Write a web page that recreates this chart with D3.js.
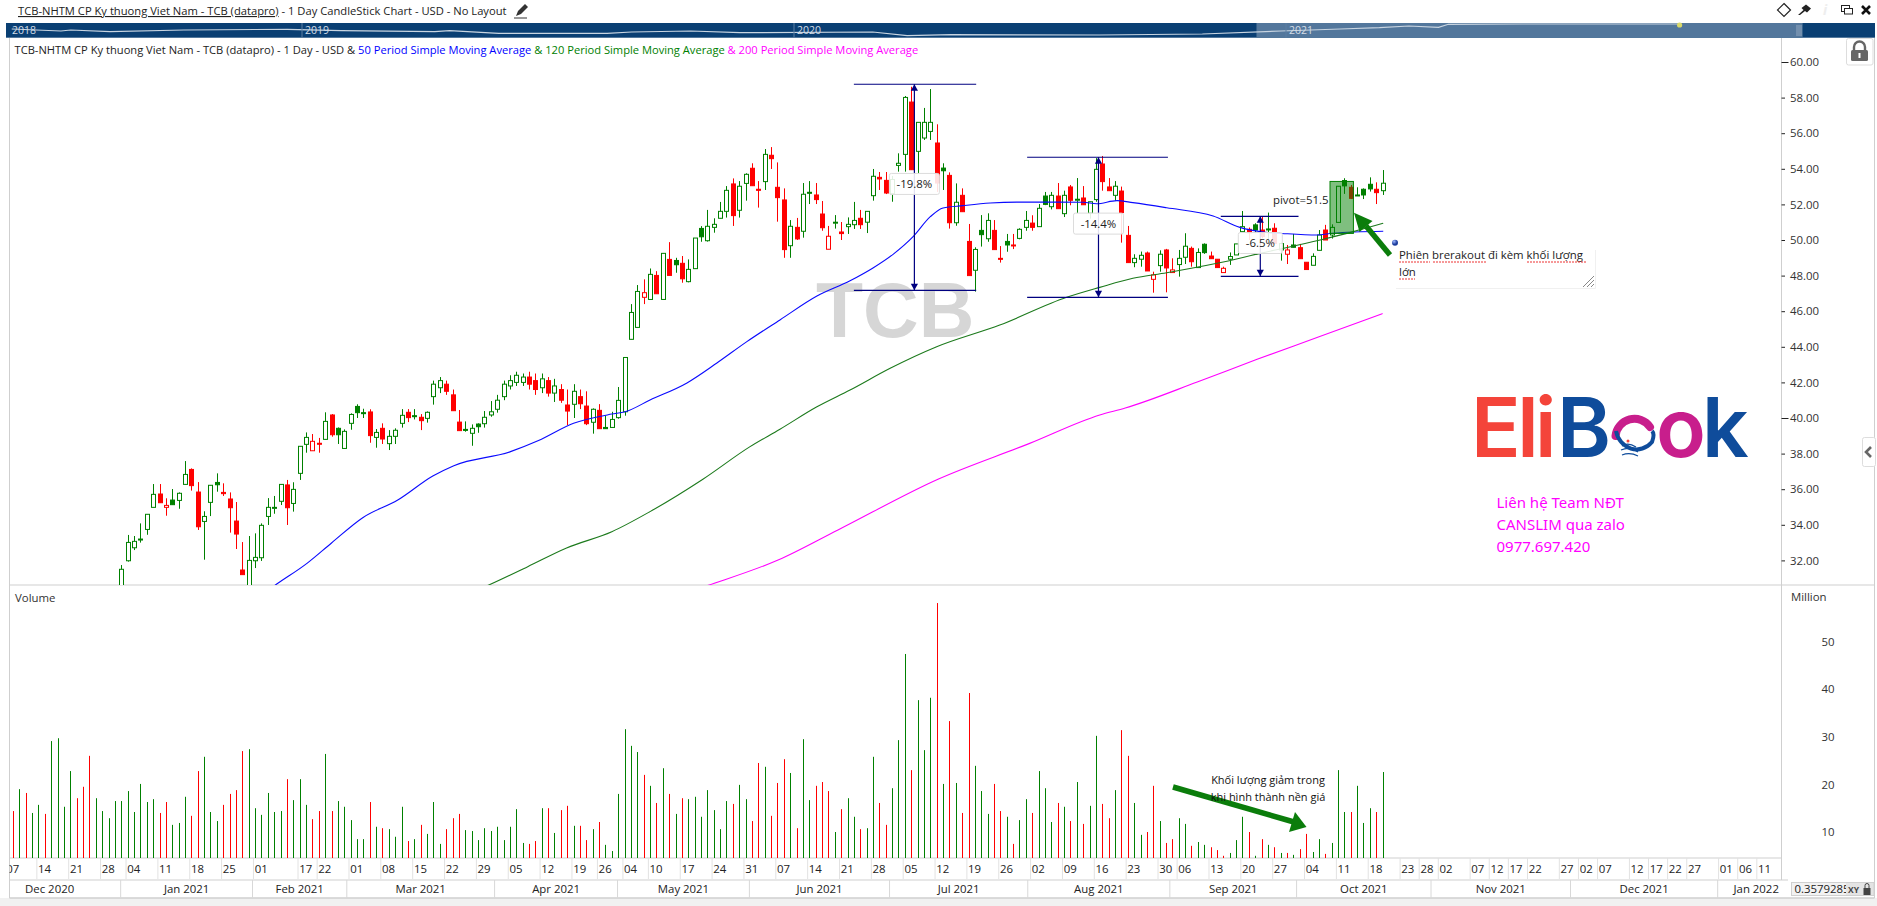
<!DOCTYPE html>
<html>
<head>
<meta charset="utf-8">
<script src="https://cdn.jsdelivr.net/npm/d3@7"></script>
<style>
html, body { margin: 0; padding: 0; background: #fff; overflow: hidden; }
svg { display: block; font-family: "Open Sans", sans-serif; }
</style>
</head>
<body>
<svg id="chart" width="1877" height="906"></svg>
<script>
// candle values, one trading day each (first 17 sit below the visible pane)
var opens = [27.4,27.0,27.6,27.2,27.5,27.9,27.5,28.0,28.6,28.9,
29.4,29.1,28.8,28.3,28.8,29.2,29.6,30.3,31.98,32.71,
33.15,33.74,34.98,35.73,34.98,35.39,35.37,36.27,37.11,35.84,
34.19,35.26,36.38,35.82,35.45,34.21,31.46,30.4,31.98,32.15,
34.47,34.97,35.32,36.24,35.2,36.89,38.52,38.16,38.58,38.8,
40.17,39.42,38.29,39.7,40.65,40.3,40.34,38.91,39.42,38.56,
38.97,39.7,40.32,40.13,40.04,39.98,41.2,41.7,41.9,41.3,
39.77,39.36,39.14,39.66,39.68,40.17,40.49,41.2,41.8,42.0,
42.0,42.3,42.1,41.7,42.1,41.4,41.6,40.73,40.77,41.2,
40.67,39.76,40.43,39.47,39.47,40.02,40.35,44.42,45.09,46.78,
46.66,48.01,46.66,48.91,48.85,48.69,47.66,48.39,50.65,49.96,
50.71,51.22,51.61,53.15,51.67,53.18,54.03,52.85,53.28,54.76,
52.96,52.25,49.68,50.71,50.49,52.68,52.53,51.46,49.48,50.99,
50.45,50.75,50.86,51.22,51.0,52.49,53.52,53.35,52.6,54.19,
54.81,57.75,54.98,55.73,56.1,55.45,54.04,53.63,50.97,52.51,
49.92,48.3,50.54,50.07,50.54,48.97,49.92,49.72,50.09,50.71,
50.95,50.75,52.47,51.87,52.47,51.48,52.98,52.28,52.36,51.5,
52.27,54.27,52.98,52.51,52.75,50.26,48.73,48.92,49.27,47.79,
48.56,49.44,48.17,48.62,49.03,49.53,48.45,49.76,49.1,48.92,
48.17,48.92,49.16,50.47,50.6,50.85,50.56,50.62,50.66,49.44,
49.2,49.72,49.57,48.75,48.58,49.42,50.56,50.28,50.99,53.34,
52.96,52.5,52.85,53.13,52.85,52.77];
var closes = [27.0,27.4,27.2,27.5,27.8,27.5,28.1,28.6,28.9,29.3,
29.0,28.7,28.3,28.8,29.2,29.6,30.0,31.5,33.01,33.07,
33.2,34.59,35.71,35.24,35.09,35.13,35.77,36.83,36.2,33.89,
34.47,36.22,36.25,35.75,34.96,33.48,31.2,32.0,32.17,33.97,
34.98,34.98,36.27,34.96,35.99,38.41,38.91,38.69,38.56,39.81,
39.06,39.06,39.25,40.2,40.3,40.28,39.01,39.19,38.82,38.97,
39.31,40.15,40.02,40.1,39.85,40.32,41.9,42.1,41.5,40.41,
39.29,39.34,39.42,39.51,40.04,40.35,41.0,41.9,42.1,42.4,
42.3,41.9,41.6,42.2,41.4,41.8,41.0,40.39,41.5,40.8,
39.68,40.49,39.4,39.4,39.92,40.99,43.4,45.93,47.11,47.04,
48.07,46.98,49.25,48.01,48.61,47.82,48.35,50.11,50.18,50.77,
50.88,51.61,52.79,51.37,53.02,53.69,53.05,52.79,54.81,54.57,
52.38,49.46,50.77,50.06,52.57,52.66,52.27,50.69,50.21,51.0,
50.36,50.88,51.1,50.86,51.61,53.58,53.43,52.64,53.4,54.31,
58.01,53.95,56.61,56.61,56.61,53.2,53.89,50.97,52.12,51.59,
48.0,49.47,50.3,51.1,49.46,48.95,49.72,49.71,50.6,51.1,
50.71,51.78,52.0,52.51,51.76,52.51,52.23,52.29,51.98,52.15,
53.97,53.28,52.77,53.02,51.54,48.73,48.97,49.14,48.26,48.04,
49.2,48.43,48.32,48.97,49.65,48.78,49.3,49.29,48.95,48.45,
48.41,49.07,49.78,50.75,50.4,50.56,50.2,50.6,49.8,49.8,
49.44,49.59,48.95,48.34,49.08,50.28,50.0,50.71,53.02,53.04,
52.34,52.53,52.53,52.87,52.66,53.19];
var highs = [27.6,27.6,27.8,27.7,28.0,28.1,28.3,28.8,29.1,29.5,
29.6,29.3,29.0,29.0,29.4,29.8,30.3,31.74,33.43,33.37,
34.08,34.59,36.29,36.29,35.49,36.01,35.82,37.58,37.17,36.4,
34.76,36.22,36.89,36.33,35.82,35.28,33.03,33.37,33.52,34.08,
35.5,35.62,36.27,36.52,36.39,38.41,39.19,39.1,38.88,40.32,
40.22,39.47,39.36,40.26,40.77,40.52,40.49,39.38,39.7,39.32,
39.42,40.5,40.5,40.5,40.22,40.37,42.1,42.3,42.1,41.6,
40.45,39.81,39.64,39.7,40.39,40.95,41.3,42.1,42.4,42.6,
42.5,42.6,42.5,42.5,42.3,42.2,41.9,41.6,41.9,41.6,
41.5,40.54,40.78,40.13,40.35,41.74,43.4,46.4,47.47,47.79,
48.4,48.25,49.25,49.88,49.0,49.1,48.91,50.11,50.78,51.69,
51.22,52.14,53.03,53.46,53.31,53.75,54.31,53.31,55.11,55.22,
54.36,52.9,51.12,51.24,53.2,53.31,53.2,52.19,50.79,51.4,
51.01,51.27,52.14,51.69,51.61,53.99,53.82,53.82,53.6,54.87,
58.09,58.61,56.61,57.42,58.48,56.5,54.31,53.8,53.18,52.9,
50.9,49.59,51.4,51.5,51.12,49.66,50.34,50.34,50.66,51.63,
51.39,52.02,52.7,52.7,53.2,52.77,53.09,53.48,53.03,52.15,
54.6,54.72,53.48,53.31,53.0,50.79,49.2,49.35,49.35,48.22,
49.42,49.5,48.97,49.44,50.38,49.63,49.53,49.81,49.35,48.92,
48.5,49.3,49.78,51.63,50.7,50.94,51.3,51.54,50.94,49.85,
49.72,50.34,49.78,48.75,49.25,50.56,50.85,50.88,53.02,53.47,
53.09,52.96,52.9,53.52,53.24,53.93];
var lows = [26.9,26.9,27.1,27.1,27.3,27.4,27.4,27.9,28.4,28.7,
28.9,28.6,28.1,28.2,28.6,29.0,29.4,30.2,31.93,32.58,
33.0,33.44,34.98,35.24,34.51,35.13,34.9,36.27,35.92,33.71,
32.04,34.49,35.86,35.62,33.56,32.64,31.2,30.2,31.57,31.97,
33.99,34.62,35.11,33.99,34.74,36.52,38.05,38.16,38.05,38.8,
38.95,38.54,38.29,39.34,40.0,40.0,38.61,38.33,38.54,38.2,
38.54,39.46,39.77,39.92,39.32,39.74,40.75,41.4,41.3,40.41,
39.29,39.23,38.44,39.17,39.46,40.07,40.3,41.0,41.6,41.8,
41.8,41.6,41.3,41.4,41.2,40.9,40.85,39.6,40.0,40.5,
39.6,39.12,39.4,39.4,39.47,39.96,40.13,44.42,45.09,46.4,
46.66,46.98,46.66,48.01,48.16,47.6,47.62,48.39,49.9,49.91,
50.41,51.22,51.26,50.79,51.26,52.21,53.05,51.82,52.81,53.99,
51.03,49.0,49.0,50.0,50.13,52.02,52.02,50.52,49.48,50.64,
50.0,50.34,50.62,50.62,50.39,52.21,52.81,52.58,52.15,53.84,
53.84,53.95,53.74,55.62,55.62,52.7,52.81,50.64,50.8,51.59,
48.0,47.1,49.63,49.9,49.46,48.73,49.34,49.49,50.04,50.52,
50.52,50.75,51.96,51.72,51.76,51.29,51.95,51.5,51.98,51.2,
52.15,52.77,52.77,52.21,49.85,48.73,48.47,48.5,48.26,47.04,
48.22,47.06,48.17,47.94,48.65,48.5,48.45,49.22,48.95,48.45,
48.17,48.6,49.16,50.47,50.0,50.38,50.1,50.0,49.8,48.84,
48.65,49.59,48.95,48.34,48.58,49.42,50.0,50.08,50.99,52.59,
52.3,52.47,52.3,52.72,52.02,52.53];

// volume in millions, same trading days
var volumes = [14.4,19.0,18.2,14.0,15.7,13.8,29.1,29.7,15.3,22.8,
17.1,19.5,26.0,17.1,14.4,12.9,16.5,16.5,18.6,14.2,
20.1,16.3,16.9,14.0,16.3,11.5,11.9,17.4,13.4,22.8,
25.8,14.2,12.3,15.7,18.0,18.8,27.0,27.4,15.0,13.6,
18.2,14.2,14.4,21.1,16.7,21.1,15.7,12.7,14.4,26.4,
14.4,16.5,15.3,12.5,8.5,8.5,16.3,11.1,10.8,10.6,
9.0,15.3,8.1,8.5,11.5,9.6,16.3,7.5,10.6,12.9,
13.8,10.4,10.2,8.3,10.8,10.2,11.1,8.3,11.1,14.8,
7.7,7.5,8.1,15.0,15.0,9.8,14.6,15.5,11.3,11.3,
8.3,10.6,12.1,7.3,6.0,18.0,31.6,28.1,26.8,
22.0,19.7,16.1,23.4,18.0,13.8,17.1,16.9,17.4,13.2,
18.8,14.6,10.6,16.5,15.9,19.9,16.9,12.3,24.5,23.7,
13.4,20.3,25.3,22.4,10.8,29.5,16.7,19.7,20.5,18.6,
10.0,14.8,17.1,13.2,10.6,10.8,25.8,16.1,11.5,19.2,
29.3,47.4,23.0,37.7,27.2,38.2,58.1,20.1,33.3,20.3,
14.0,39.2,23.9,18.6,13.8,20.1,14.4,13.2,7.5,12.5,
16.9,14.0,22.8,19.2,12.1,16.1,15.3,12.3,20.5,11.7,
15.5,30.2,15.9,12.9,18.8,31.4,26.0,16.1,9.4,10.0,
19.7,12.3,7.7,8.5,12.9,11.7,7.1,7.9,7.3,6.8,
6.2,5.0,5.6,8.3,13.2,10.0,5.0,8.5,7.3,6.8,
5.6,5.6,5.2,6.4,9.6,5.8,8.5,5.4,7.7,23.0,
14.2,14.2,19.7,11.9,15.0,14.2,22.6];
// day direction: g up on the previous close, r down
var dayDirs = ("rgrggrgggg" + "rrrggggggg" + "gggrrgggrr" + "gggrrrrggg" + "gggrgggrrg" +
  "rgggggrgrg" + "ggrgrgggrr" + "rggggggggg" + "grrgrgrrgr" + "rgrgggggg" +
  "rgrgrgrggg" + "ggggrggrrg" + "rrrgrggrrr" + "grggrggrrg" + "ggrgggrgrg" +
  "rrgggrrgrg" + "grgggrgrgr" + "ggrrgrrggr" + "rgrrggrggr" + "rrgggrgrgr" +
  "grgrrggrgg" + "grgggrg").split("");

// moving averages, vertices as [day index], [price]
var ma50Days = [38,41.4,46.2,50,54.9,60.4,65.9,69.2,78.1,82.5,88,94,96.1,100,105.8,110.5,115.2,120.4,126.2,131.4,135,138.2,141.3,144,146,149.1,153.4,157.6,168,170.1,173.3,175.8,181.1,188.4,192.6,195.8,200,204.7,207.2,215.1];
var ma50Prices = [29.8,30.67,31.85,32.98,34.4,35.39,36.74,37.32,38.11,38.73,39.7,40.22,40.35,41.01,41.97,43.09,44.29,45.51,46.85,47.71,48.43,49.21,50.19,51.31,51.8,51.93,52.08,52.13,52.12,52.04,52.21,52.1,51.81,51.35,50.71,50.47,50.35,50.28,50.38,50.49];
var ma120Days = [70,74.7,80.8,86.9,94,100,108.3,115.7,120.4,126.2,131.4,137.7,145,154.9,165.4,170.6,175.8,181.1,189,195.8,205.2,210.4,215.1];
var ma120Prices = [29.9,30.62,31.65,32.7,33.61,34.74,36.56,38.39,39.37,40.63,41.57,42.79,44.0,45.22,46.78,47.34,47.85,48.16,48.69,49.25,50.0,50.47,50.94];
var ma200Days = [100,108.8,120.1,129.5,145.2,159.5,170.6,174.6,185.9,195.3,204.7,215];
var ma200Prices = [29.5,30.56,32.02,33.71,36.56,38.56,40.17,40.56,42.02,43.3,44.52,45.87];

// overview strip above the chart
var navYears = [2018.41,2018.51,2018.53,2018.61,2018.76,2018.97,2019.08,2019.27,2019.30,2019.40,2019.62,2019.67,2019.79,2019.89,2020.16,2020.23,2020.32,2020.62,2020.83,2020.99,2021.11,2021.19,2021.25,2021.31,2021.33,2021.48,2021.62,2021.80];
var navPrices = [40.6,33.6,37.1,31.1,37.1,39.6,34.7,31.1,34.7,25.5,25.5,30.1,33.6,27.6,30.1,17.1,20.6,19.5,23.0,33.6,40.6,45.2,51.2,46.6,57.2,58.2,58.2,58.2];
var navYearLabels = [2018,2019,2020,2021];

// date axis
var dayTicks = [0,5,10,15,19,24,29,34,39,46,49,54,59,64,69,74,79,84,89,93,97,101,106,111,116,121,126,131,136,141,146,151,156,161,166,171,176,181,184,189,194,199,204,209,214,219,222,225,230,233,236,239,244,247,250,255,258,261,264,269,272,275];
var dayTickLabels = ["07","14","21","28","04","11","18","25","01","17","22","01","08","15","22","29","05","12","19","26","04","10","17","24","31","07","14","21","28","05","12","19","26","02","09","16","23","30","06","13","20","27","04","11","18","23","28","02","07","12","17","22","27","02","07","12","17","22","27","01","06","11"];
var monthLabels = ["Dec 2020","Jan 2021","Feb 2021","Mar 2021","Apr 2021","May 2021","Jun 2021","Jul 2021","Aug 2021","Sep 2021","Oct 2021","Nov 2021","Dec 2021","Jan 2022"];
var monthEdges = [-5.4,16.9,37.6,52.4,75.6,94.9,115.6,137.6,159.3,181.6,201.5,222.6,244.5,267.6,279.7];

// price axis and volume axis
var priceTicks = [32,34,36,38,40,42,44,46,48,50,52,54,56,58,60];
var volumeTicks = [10,20,30,40,50];

// measured pullbacks drawn on the chart: left day, right day, high, low, label
var measureLeft = [132,159.2,189.6];
var measureRight = [151.2,181.3,201.8];
var measureDay = [141.5,170.4,195.8];
var measureHigh = [58.75,54.65,51.33];
var measureLow = [47.17,46.78,47.96];
var measureText = ["-19.8%","-14.4%","-6.5%"];
var measureBoxPrice = [53.15,50.92,49.83];

var svg = d3.select("#chart");
var paneLeft = 9.5, axisX = 1781.5, paneTop = 38, priceBottom = 585, volBottom = 858;

var x = d3.scaleLinear().domain([0, 215]).range([13, 1382.6]);
var y = d3.scaleLinear().domain([60, 40]).range([62, 418]);
var yVol = d3.scaleLinear().domain([10, 50]).range([832, 641.6]);
var navX = d3.scaleLinear().domain([2019, 2020]).range([302, 794]);
var navY = d3.scaleLinear().domain([10, 60]).range([37.7, 23.5]);

var GREEN = "#008000", RED = "#ff0000", NAVY = "#000080";
var days = d3.range(opens.length);

var defs = svg.append("defs");
defs.append("clipPath").attr("id", "priceClip").append("rect")
  .attr("x", paneLeft).attr("y", paneTop).attr("width", axisX - paneLeft).attr("height", priceBottom - paneTop);
defs.append("clipPath").attr("id", "dateClip").append("rect")
  .attr("x", paneLeft).attr("y", 858).attr("width", axisX - paneLeft).attr("height", 24);
var grad = defs.append("radialGradient").attr("id", "dotGrad").attr("cx", "35%").attr("cy", "30%");
grad.append("stop").attr("offset", "0%").attr("stop-color", "#9db7ff");
grad.append("stop").attr("offset", "100%").attr("stop-color", "#1c3c9c");

// ---- header
svg.append("rect").attr("x", 0).attr("y", 898).attr("width", 1877).attr("height", 8).attr("fill", "#f1f1f1");

var title = svg.append("text").attr("x", 18).attr("y", 15).attr("font-size", 11.2).attr("fill", "#222");
title.append("tspan").attr("text-decoration", "underline").text("TCB-NHTM CP Ky thuong Viet Nam - TCB (datapro)");
title.append("tspan").text(" - 1 Day CandleStick Chart - USD - No Layout");

// pencil
svg.append("path").attr("d", "M516 16 L518 11 L525 4 L528 7 L521 14 Z").attr("fill", "#333");
svg.append("path").attr("d", "M514 18 L527 18").attr("stroke", "#333").attr("stroke-width", 1);

// icons top right
svg.append("path").attr("d", "M1784 3.5 L1790.5 10 L1784 16.5 L1777.5 10 Z").attr("fill", "none").attr("stroke", "#222").attr("stroke-width", 1.2);
svg.append("path").attr("d", "M1798 15 L1803.5 10 L1801.5 8 L1806 4.5 L1811 8.5 L1807 12.5 L1805 11 L1800 15 Z").attr("fill", "#222");
svg.append("text").attr("x", 1825).attr("y", 15).attr("text-anchor", "middle").attr("font-size", 14).attr("font-style", "italic").attr("font-weight", 700).attr("fill", "#eee").text("i");
svg.append("rect").attr("x", 1841.5).attr("y", 5.5).attr("width", 8).attr("height", 6).attr("fill", "#fff").attr("stroke", "#222");
svg.append("rect").attr("x", 1844.5).attr("y", 8.5).attr("width", 8).attr("height", 5.5).attr("fill", "#fff").attr("stroke", "#222");
svg.append("path").attr("d", "M1862 6 L1870 14 M1870 6 L1862 14").attr("stroke", "#111").attr("stroke-width", 2.6);

// overview strip
svg.append("rect").attr("x", 6).attr("y", 23).attr("width", 1869).attr("height", 14.7).attr("fill", "#0a3f73");
svg.append("rect").attr("x", navX(2020.94)).attr("y", 23).attr("width", navX(2022.05) - navX(2020.94)).attr("height", 14.7).attr("fill", "#53779c");
svg.append("path").attr("fill", "none").attr("stroke", "#c8d4e0").attr("stroke-width", 1.2)
  .attr("d", d3.line().x(function(d){ return navX(d); }).y(function(d, i){ return navY(navPrices[i]); })(navYears));
svg.append("circle").attr("cx", navX(2021.80)).attr("cy", 25).attr("r", 2.6).attr("fill", "#d9d96a");
[0, 1, 2].forEach(function(k){
  svg.append("line").attr("x1", 1797 + k * 2).attr("x2", 1797 + k * 2).attr("y1", 25).attr("y2", 36).attr("stroke", "#94a9c0");
});
navYearLabels.forEach(function(yr){
  var px = yr == 2018 ? 12 : navX(yr) + 3;
  if (yr != 2018) svg.append("line").attr("x1", navX(yr)).attr("x2", navX(yr)).attr("y1", 23).attr("y2", 37.7).attr("stroke", "#5a7ea3");
  svg.append("text").attr("x", px).attr("y", 34).attr("font-size", 10.5).attr("fill", "#d3dde7").text(yr);
});

// legend
var legend = svg.append("text").attr("x", 14.5).attr("y", 54).attr("font-size", 11.15).attr("fill", "#222");
legend.append("tspan").text("TCB-NHTM CP Ky thuong Viet Nam - TCB (datapro) - 1 Day - USD & ");
legend.append("tspan").attr("fill", "#0000ff").text("50 Period Simple Moving Average");
legend.append("tspan").attr("fill", "#008000").text(" & 120 Period Simple Moving Average");
legend.append("tspan").attr("fill", "#ff00ff").text(" & 200 Period Simple Moving Average");

// ---- frame lines
var frame = "#cfcfcf";
[[paneLeft, 38, paneLeft, 898], [axisX, 38, axisX, 880], [1874.5, 38, 1874.5, 898],
 [paneLeft, priceBottom, 1874.5, priceBottom], [paneLeft, volBottom, axisX, volBottom],
 [paneLeft, 880, 1788, 880], [paneLeft, 898, 1874.5, 898]].forEach(function(l){
  svg.append("line").attr("x1", l[0]).attr("y1", l[1]).attr("x2", l[2]).attr("y2", l[3]).attr("stroke", frame).attr("stroke-width", l[1] == 898 ? 1.4 : 1);
});

// ---- watermark
svg.append("text").attr("x", 816).attr("y", 337).attr("font-family", "Liberation Sans").attr("font-weight", 700)
  .attr("font-size", 77).attr("fill", "#d6d6d6").text("TCB");

// ---- logo
var logoBlue = "#0f4c9b", logoPink = "#c81e8c", logoRed = "#f4443a";
svg.append("text").attr("x", 1471).attr("y", 457).attr("font-family", "Inter").attr("font-weight", 600)
  .attr("font-size", 82).attr("letter-spacing", -3.5).attr("fill", logoRed).text("Eli");
var logoLetters = [["B", 1557, logoBlue], ["o", 1656, logoPink], ["k", 1702, logoBlue]];
logoLetters.forEach(function(l){
  svg.append("text").attr("x", l[1]).attr("y", 457).attr("font-family", "Inter").attr("font-weight", 600)
    .attr("font-size", 82).attr("fill", l[2]).text(l[0]);
});
// the swoosh "o"
svg.append("path").attr("d", "M1615.5 436 A 19 19 0 0 1 1650 427").attr("fill", "none").attr("stroke", logoPink).attr("stroke-width", 8).attr("stroke-linecap", "round");
svg.append("path").attr("d", "M1616 431 A 21 23 0 0 0 1652 442 Q1655 434 1652 431").attr("fill", "none").attr("stroke", logoBlue).attr("stroke-width", 4);
svg.append("circle").attr("cx", 1628).attr("cy", 441).attr("r", 1.5).attr("fill", logoRed);
svg.append("path").attr("d", "M1622 446 Q1628 442 1636 447 M1621 450 Q1630 446 1638 452 M1622 455 Q1630 452 1638 456").attr("fill", "none").attr("stroke", logoBlue).attr("stroke-width", 1.2);

// contact text
["Liên hệ Team NĐT", "CANSLIM qua zalo", "0977.697.420"].forEach(function(s, k){
  svg.append("text").attr("x", 1496.5).attr("y", 508 + k * 22).attr("font-family", "Noto Sans").attr("font-size", 15).attr("fill", "#ff00ff").text(s);
});

// ---- candles
var priceG = svg.append("g").attr("clip-path", "url(#priceClip)");
var candle = priceG.selectAll(".candle").data(days).enter().append("g").attr("class", "candle");
function dirColor(i){ return dayDirs[i] == "g" ? GREEN : RED; }

candle.append("line")
  .attr("x1", function(i){ return Math.round(x(i)) + 0.5; })
  .attr("x2", function(i){ return Math.round(x(i)) + 0.5; })
  .attr("y1", function(i){ return y(highs[i]); })
  .attr("y2", function(i){ return y(lows[i]); })
  .attr("stroke", dirColor).attr("stroke-width", 1);

candle.append("rect")
  .attr("x", function(i){ return Math.round(x(i)) - 1.5; })
  .attr("width", 4)
  .attr("y", function(i){ return y(Math.max(opens[i], closes[i])); })
  .attr("height", function(i){ return Math.max(1, Math.abs(y(opens[i]) - y(closes[i]))); })
  .attr("fill", function(i){ return closes[i] >= opens[i] ? "#fff" : dirColor(i); })
  .attr("stroke", dirColor).attr("stroke-width", 1);

// ---- moving averages
function maLine(dayList, priceList, color){
  var line = d3.line().curve(d3.curveMonotoneX).x(function(d){ return x(d); }).y(function(d, i){ return y(priceList[i]); });
  priceG.append("path").attr("d", line(dayList)).attr("fill", "none").attr("stroke", color).attr("stroke-width", 1.1);
}
maLine(ma50Days, ma50Prices, "#0a0aff");
maLine(ma120Days, ma120Prices, "#1c7a1c");
maLine(ma200Days, ma200Prices, "#ff00ff");

// ---- pullback measures
measureText.forEach(function(label, k){
  var mx = x(measureDay[k]), top = y(measureHigh[k]), bot = y(measureLow[k]);
  [top, bot].forEach(function(yy){
    svg.append("line").attr("x1", x(measureLeft[k])).attr("x2", x(measureRight[k])).attr("y1", yy).attr("y2", yy).attr("stroke", NAVY).attr("stroke-width", 1.2);
  });
  svg.append("line").attr("x1", mx).attr("x2", mx).attr("y1", top).attr("y2", bot).attr("stroke", NAVY).attr("stroke-width", 1.2);
  svg.append("path").attr("fill", NAVY).attr("d", "M" + mx + " " + top + "l-3.6 6.5h7.2z");
  svg.append("path").attr("fill", NAVY).attr("d", "M" + mx + " " + bot + "l-3.6 -6.5h7.2z");
  var by = y(measureBoxPrice[k]), bw = k == 2 ? 44 : 50, bh = 21;
  svg.append("rect").attr("x", mx - bw / 2).attr("y", by - bh / 2).attr("width", bw).attr("height", bh).attr("rx", 2)
    .attr("fill", "#fff").attr("fill-opacity", 0.88).attr("stroke", "#dcdcdc");
  svg.append("text").attr("x", mx).attr("y", by + 4).attr("text-anchor", "middle").attr("font-size", 11.4).attr("fill", "#222").text(label);
});

// ---- breakout marks
svg.append("text").attr("x", 1273).attr("y", 204).attr("font-size", 11.4).attr("fill", "#222").text("pivot=51.5");
svg.append("rect").attr("x", x(208) - 8).attr("y", y(53.29)).attr("width", 23.4).attr("height", y(50.37) - y(53.29))
  .attr("fill", "#008000").attr("fill-opacity", 0.5).attr("stroke", "#008000").attr("stroke-width", 1);
svg.append("path").attr("d", "M1390 255 L1366 226").attr("stroke", "#0b7d0b").attr("stroke-width", 5.5);
svg.append("path").attr("d", "M1354 212.7 L1372.5 221 L1359.5 232 Z").attr("fill", "#0b7d0b");
svg.append("circle").attr("cx", 1395).attr("cy", 242.7).attr("r", 3).attr("fill", "url(#dotGrad)");

// note box
svg.append("path").attr("d", "M1396 288.5 H1595.5 V250").attr("fill", "none").attr("stroke", "#f0f0f0");
svg.append("path").attr("d", "M1583 287 L1594 276 M1587 287 L1594 280 M1591 287 L1594 284").attr("stroke", "#888").attr("stroke-width", 1);
svg.append("text").attr("x", 1399).attr("y", 259).attr("font-size", 11.4).attr("fill", "#222").text("Phiên brerakout đi kèm khối lượng");
svg.append("text").attr("x", 1399).attr("y", 276).attr("font-size", 11.4).attr("fill", "#222").text("lớn");
[[1399, 1430], [1433, 1487], [1527, 1587], [1399, 1415]].forEach(function(s, k){
  var yy = k == 3 ? 279 : 262;
  svg.append("line").attr("x1", s[0]).attr("x2", s[1]).attr("y1", yy).attr("y2", yy)
    .attr("stroke", "#e33").attr("stroke-width", 1.2).attr("stroke-dasharray", "2 1");
});

// ---- volume bars
svg.selectAll(".volbar").data(days).enter().append("rect").attr("class", "volbar")
  .attr("x", function(i){ return Math.round(x(i)); })
  .attr("width", 1)
  .attr("y", function(i){ return yVol(volumes[i]); })
  .attr("height", function(i){ return volBottom - yVol(volumes[i]); })
  .attr("fill", dirColor);

svg.append("text").attr("x", 15).attr("y", 602).attr("font-size", 11.4).attr("fill", "#333").text("Volume");
svg.append("text").attr("x", 1791).attr("y", 601).attr("font-size", 11.4).attr("fill", "#333").text("Million");

// falling-volume arrow and note
svg.append("path").attr("d", "M1173 787 L1294 822").attr("stroke", "#0b7d0b").attr("stroke-width", 5.5);
svg.append("path").attr("d", "M1306.5 827 L1289 832 L1295 812 Z").attr("fill", "#0b7d0b");
svg.append("text").attr("x", 1268).attr("y", 784).attr("text-anchor", "middle").attr("font-size", 11).attr("fill", "#111").text("Khối lượng giảm trong");
svg.append("text").attr("x", 1268).attr("y", 801).attr("text-anchor", "middle").attr("font-size", 11).attr("fill", "#111").text("khi hình thành nền giá");

// ---- price axis
var priceAxis = d3.axisRight(y).tickValues(priceTicks).tickFormat(d3.format(".2f")).tickSize(3.5).tickPadding(5);
var priceAxisG = svg.append("g").attr("transform", "translate(" + axisX + ",0)").call(priceAxis);
priceAxisG.select(".domain").remove();
priceAxisG.selectAll("line").attr("stroke", "#222").attr("x2", function(d){ return d == 60 || d == 40 ? 7 : 3.5; });
priceAxisG.selectAll("text").attr("font-family", "Open Sans").attr("font-size", 11.4).attr("fill", "#333").attr("x", 8.5);

// ---- volume axis
var volAxis = d3.axisRight(yVol).tickValues(volumeTicks).tickSize(0).tickPadding(40);
var volAxisG = svg.append("g").attr("transform", "translate(" + axisX + ",0)").call(volAxis);
volAxisG.select(".domain").remove();
volAxisG.selectAll("text").attr("font-family", "Open Sans").attr("font-size", 11.4).attr("fill", "#333");

// ---- date axis, day row
var dayAxis = d3.axisBottom(x).tickValues(dayTicks).tickSize(21)
  .tickFormat(function(d, i){ return dayTickLabels[i]; });
var dayAxisG = svg.append("g").attr("clip-path", "url(#dateClip)").append("g").attr("transform", "translate(0," + volBottom + ")").call(dayAxis);
dayAxisG.select(".domain").remove();
dayAxisG.selectAll("line").attr("stroke", "#e2e2e2").attr("transform", "translate(-8.5,0)");
dayAxisG.selectAll("text").attr("font-family", "Open Sans").attr("font-size", 11.4).attr("fill", "#222")
  .attr("y", 7).attr("dy", "0.71em").attr("dx", -0.8);

// ---- date axis, month row
monthLabels.forEach(function(m, k){
  var a = x(monthEdges[k]), b = x(monthEdges[k + 1]);
  if (k > 0) svg.append("line").attr("x1", a).attr("x2", a).attr("y1", 880).attr("y2", 898).attr("stroke", "#d8d8d8");
  svg.append("text").attr("x", (a + b) / 2).attr("y", 893).attr("text-anchor", "middle").attr("font-size", 11.4).attr("fill", "#222").text(m);
});

// ---- widgets on the right
svg.append("rect").attr("x", 1846.5).attr("y", 38.5).attr("width", 26.5).attr("height", 26.5).attr("rx", 2).attr("fill", "#fff").attr("stroke", "#ddd");
svg.append("path").attr("d", "M1854 50 V47 A5.5 5.5 0 0 1 1865 47 V50").attr("fill", "none").attr("stroke", "#666").attr("stroke-width", 2.4);
svg.append("rect").attr("x", 1851).attr("y", 50).attr("width", 17).attr("height", 11).attr("rx", 1.5).attr("fill", "#666");
svg.append("rect").attr("x", 1858.5).attr("y", 53).attr("width", 2).attr("height", 5).attr("fill", "#fff");

svg.append("rect").attr("x", 1862.5).attr("y", 437.5).attr("width", 13).attr("height", 29).attr("rx", 2).attr("fill", "#fff").attr("stroke", "#ddd");
svg.append("path").attr("d", "M1871 447 L1866 452 L1871 457").attr("fill", "none").attr("stroke", "#666").attr("stroke-width", 2.6);

svg.append("rect").attr("x", 1791.5).attr("y", 882.5).attr("width", 82).attr("height", 13).attr("fill", "#f2f2f2").attr("stroke", "#d0d0d0");
svg.append("text").attr("x", 1794.5).attr("y", 893).attr("font-size", 11.4).attr("fill", "#222").text("0.3579285");
svg.append("rect").attr("x", 1846).attr("y", 883).attr("width", 27.5).attr("height", 12).attr("fill", "#e4e4e4");
svg.append("text").attr("x", 1848).attr("y", 892.5).attr("font-size", 8.5).attr("font-weight", 700).attr("fill", "#444").text("XY");
svg.append("rect").attr("x", 1863.5).attr("y", 888).attr("width", 7).attr("height", 7).attr("fill", "#444");
svg.append("path").attr("d", "M1865 888 V885.5 A2 2 0 0 1 1869 885.5 V888").attr("fill", "none").attr("stroke", "#444");
</script>
</body>
</html>
